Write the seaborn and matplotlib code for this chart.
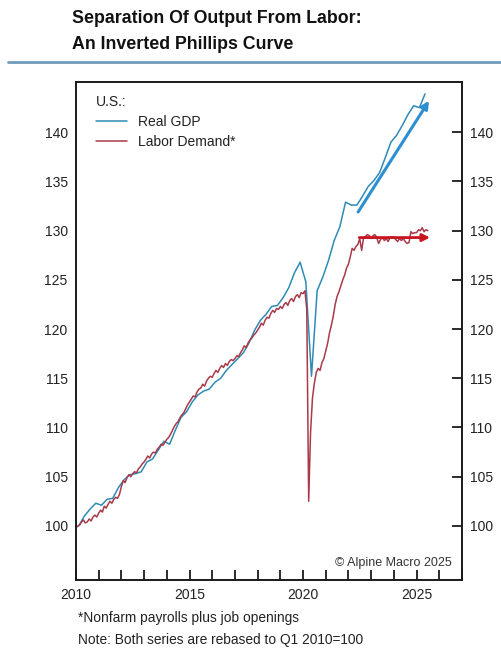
import matplotlib
matplotlib.use("Agg")
import matplotlib.pyplot as plt
import matplotlib.dates as mdates
from matplotlib.lines import Line2D
from matplotlib.ticker import FuncFormatter
import pandas as pd
import seaborn as sns


# Real GDP, quarterly, rebased Q1 2010 = 100
GDP_START = "2010Q1"
REAL_GDP = [
    100.0, 101.0, 101.7, 102.3,
    102.1, 102.7, 102.8, 103.9,
    104.7, 105.2, 105.3, 105.5,
    106.5, 106.8, 107.7, 108.6,
    108.3, 109.7, 111.0, 111.6,
    112.6, 113.3, 113.7, 113.9,
    114.6, 115.0, 115.8, 116.4,
    117.0, 117.6, 118.6, 119.9,
    120.9, 121.5, 122.3, 122.4,
    123.2, 124.2, 125.7, 126.8,
    124.8, 115.2, 123.9, 125.3,
    127.0, 129.0, 130.4, 132.9,
    132.6, 132.6, 133.5, 134.5,
    135.1, 135.9, 137.4, 139.0,
    139.7, 140.7, 141.8, 142.7,
    142.5, 143.9,
]

# Labor demand (nonfarm payrolls + job openings), monthly, rebased
LABOR_START = "2010-01"
LABOR_DEMAND = [
    99.8, 100.0, 100.1, 100.4, 100.6, 100.3, 100.4, 100.7, 100.5, 100.9, 101.1, 100.9,
    101.3, 101.6, 101.4, 102.0, 101.8, 102.2, 102.5, 102.3, 102.7, 102.9, 102.8, 103.2,
    104.0, 104.6, 104.4, 104.9, 105.2, 105.0, 105.3, 105.5, 105.4, 105.8, 106.0, 106.3,
    106.5, 106.8, 107.1, 106.9, 107.3, 107.5, 107.4, 107.8, 108.0, 108.3, 108.2, 108.5,
    108.8, 109.0, 109.3, 109.7, 110.1, 110.4, 110.6, 111.0, 111.3, 111.5, 111.9, 112.3,
    112.6, 112.9, 113.2, 113.1, 113.6, 113.9, 114.0, 114.4, 114.2, 114.7, 115.0, 115.2,
    115.1, 115.5, 115.8, 115.6, 116.0, 116.3, 116.1, 116.5, 116.3, 116.7, 116.9, 116.8,
    117.0, 117.3, 117.2, 117.6, 117.9, 118.3, 118.1, 118.6, 118.9, 119.1, 119.4, 119.6,
    119.9, 120.2, 120.6, 120.4, 120.9, 121.2, 121.1, 121.6, 121.9, 121.7, 122.1, 122.0,
    122.3, 122.1, 122.5, 122.7, 122.4, 122.9, 123.1, 122.8, 123.3, 123.5, 123.2, 123.7,
    123.6, 123.9, 122.0, 102.5, 109.5, 113.0, 114.5, 115.6, 116.0, 115.8, 116.6, 117.0,
    117.8, 118.6, 119.6, 120.4, 121.3, 122.5, 123.3, 123.8, 124.4, 125.0, 125.5, 126.2,
    126.6, 127.4, 128.2, 128.0, 128.4, 128.6, 129.2, 128.0, 129.3, 129.4, 129.6, 129.5,
    129.2, 129.5, 129.6, 129.3, 128.7, 129.1, 129.3, 129.0, 129.2, 128.9, 129.3, 129.4,
    129.3, 129.1, 128.9, 129.2, 129.0, 129.2, 128.9, 128.7, 128.8, 129.9, 129.7, 129.8,
    129.8, 130.1, 130.0, 130.3, 129.9, 130.1, 130.0,
]

# trend arrows (start, end)
GDP_ARROW_DATES = ["2022-06-05", "2025-07-20"]
GDP_ARROW_VALUES = [131.9, 143.2]
LABOR_ARROW_DATES = ["2022-06-25", "2025-08-05"]
LABOR_ARROW_VALUES = [129.3, 129.3]

Y_TICKS = [100, 105, 110, 115, 120, 125, 130, 135, 140]

GDP_COLOR = "#2f8bb5"
LABOR_COLOR = "#a83a4a"
GDP_ARROW_COLOR = "#2b8fd0"
LABOR_ARROW_COLOR = "#c8141e"


sns.set_theme(style="white")
plt.rcParams["font.family"] = ["Liberation Sans", "DejaVu Sans"]

gdp = pd.DataFrame({
    "date": pd.period_range(GDP_START, periods=len(REAL_GDP), freq="Q").to_timestamp() + pd.Timedelta(days=45),
    "value": REAL_GDP,
})
labor = pd.DataFrame({
    "date": pd.period_range(LABOR_START, periods=len(LABOR_DEMAND), freq="M").to_timestamp(),
    "value": LABOR_DEMAND,
})

fig = plt.figure(figsize=(5.02, 6.5), dpi=100)
ax = fig.add_axes([0.1514, 0.1077, 0.7689, 0.766])

sns.lineplot(data=gdp, x="date", y="value", ax=ax, color=GDP_COLOR, linewidth=1.1, label="Real GDP")
sns.lineplot(data=labor, x="date", y="value", ax=ax, color=LABOR_COLOR, linewidth=1.1, label="Labor Demand*")

ax.annotate("", xy=(pd.Timestamp(GDP_ARROW_DATES[1]), GDP_ARROW_VALUES[1]),
            xytext=(pd.Timestamp(GDP_ARROW_DATES[0]), GDP_ARROW_VALUES[0]),
            arrowprops=dict(arrowstyle="-|>", color=GDP_ARROW_COLOR, lw=2.2, mutation_scale=11,
                            shrinkA=0, shrinkB=0))
ax.annotate("", xy=(pd.Timestamp(LABOR_ARROW_DATES[1]), LABOR_ARROW_VALUES[1]),
            xytext=(pd.Timestamp(LABOR_ARROW_DATES[0]), LABOR_ARROW_VALUES[0]),
            arrowprops=dict(arrowstyle="-|>", color=LABOR_ARROW_COLOR, lw=2.0, mutation_scale=11,
                            shrinkA=0, shrinkB=0))

ax.set_xlim(pd.Timestamp("2010-01-01"), pd.Timestamp("2027-01-01"))
ax.set_ylim(94.5, 145.1)
ax.set_yticks(Y_TICKS)
ax.xaxis.set_major_locator(mdates.YearLocator(1))
ax.xaxis.set_major_formatter(FuncFormatter(
    lambda v, _: str(mdates.num2date(v).year) if mdates.num2date(v).year % 5 == 0 else ""))
ax.set_xlabel("")
ax.set_ylabel("")

for side in ["left", "right", "top", "bottom"]:
    ax.spines[side].set_visible(True)
    ax.spines[side].set_color("#1a1a1a")
    ax.spines[side].set_linewidth(1.4)
ax.tick_params(axis="both", direction="in", length=7, width=1.3, color="#1a1a1a",
               labelsize=10, labelcolor="#222222", pad=6)
ax.tick_params(axis="y", right=True, labelright=True)
ax.tick_params(axis="x", bottom=True, top=False)

leg = ax.legend(title="U.S.:", loc="upper left", bbox_to_anchor=(0.02, 1.0), frameon=False,
                fontsize=10, title_fontsize=10, handlelength=2.2, handletextpad=0.8,
                labelspacing=0.45, alignment="left")
for text in leg.get_texts():
    text.set_color("#222222")
leg.get_title().set_color("#222222")

ax.text(0.974, 0.034, "© Alpine Macro 2025", transform=ax.transAxes, ha="right", va="center",
        fontsize=9, color="#333333")

fig.text(0.143, 0.972, "Separation Of Output From Labor:", fontsize=12.8, fontweight="bold",
         ha="left", va="center", color="#111111")
fig.text(0.143, 0.931, "An Inverted Phillips Curve", fontsize=12.8, fontweight="bold",
         ha="left", va="center", color="#111111")
fig.add_artist(Line2D([0.016, 1.0], [0.9046, 0.9046], transform=fig.transFigure,
                      color="#6f9cbc", linewidth=2))

fig.text(0.155, 0.049, "*Nonfarm payrolls plus job openings", fontsize=9.9, ha="left", va="center",
         color="#222222")
fig.text(0.155, 0.016, "Note: Both series are rebased to Q1 2010=100", fontsize=9.9, ha="left",
         va="center", color="#222222")

fig.savefig("out.png", dpi=100)
